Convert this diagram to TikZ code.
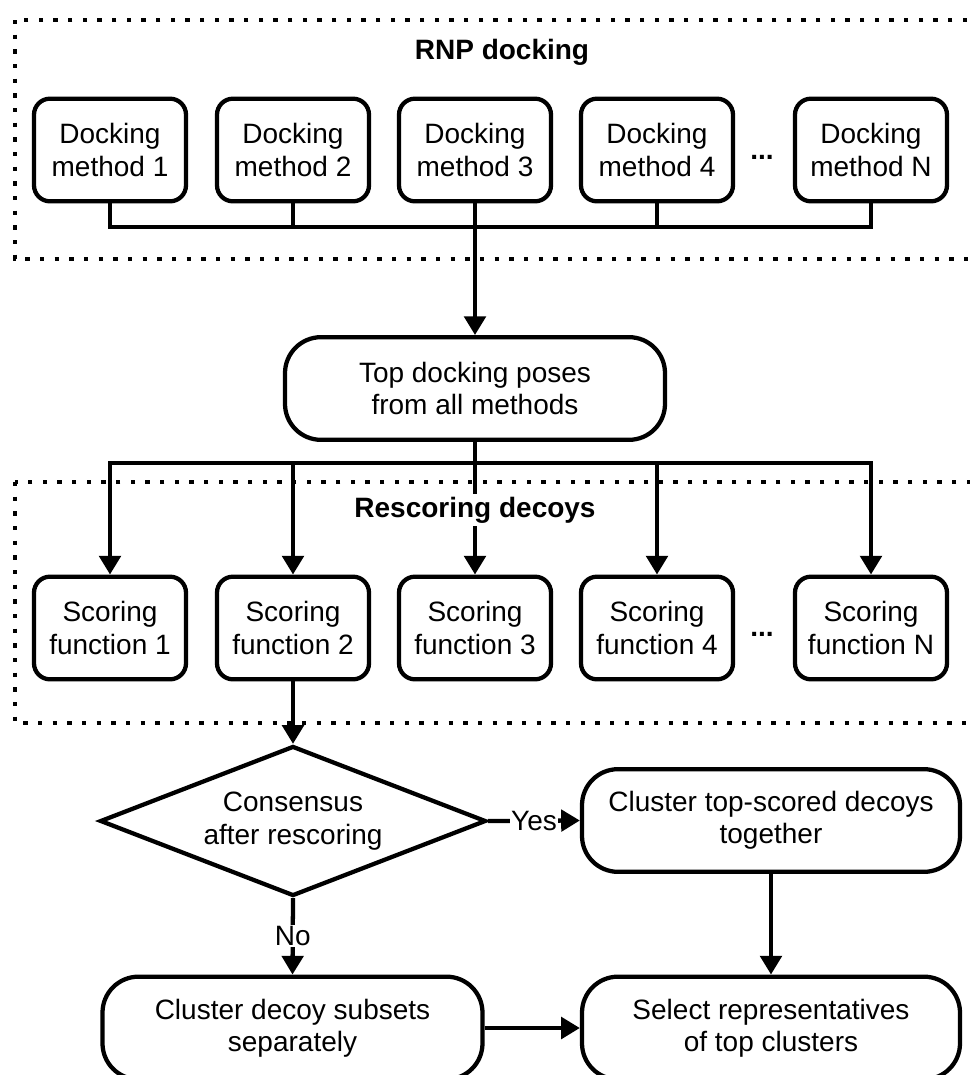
\documentclass[tikz,border=0pt]{standalone}
\usepackage{fontspec}
\setmainfont{Liberation Sans}
\usetikzlibrary{arrows.meta,shapes.geometric}
\begin{document}
\begin{tikzpicture}[x=0.75pt,y=-0.75pt,
  every node/.style={font=\fontsize{21pt}{24.3pt}\selectfont},
  line width=3.2pt,
  sbox/.style={draw, rounded corners=12pt, minimum width=114pt, minimum height=77pt, align=center, inner sep=0pt},
  bigbox/.style={draw, rounded corners=27pt, minimum width=285pt, minimum height=77pt, align=center, inner sep=0pt},
  arr/.style={-{Triangle[length=14pt,width=16pt]}},
  dotbox/.style={dash pattern=on 3.3pt off 7.7pt, line width=3.3pt},
  lbl/.style={fill=white, inner sep=1pt},
  grouptitle/.style={font=\fontsize{21pt}{24.3pt}\selectfont\bfseries, fill=white, inner sep=2pt, anchor=base},
  ell/.style={anchor=base, inner sep=0pt, font=\fontsize{21pt}{24.3pt}\selectfont\bfseries}
]
\clip (0,0) rectangle (970,1075);
% dotted group frames
\draw[dotbox] (15,20) rectangle (1000,259);
\draw[dotbox] (15,482) rectangle (1000,723);

% docking methods
\node[sbox] (d1) at (110,150) {Docking\\method 1};
\node[sbox] (d2) at (293,150) {Docking\\method 2};
\node[sbox] (d3) at (475,150) {Docking\\method 3};
\node[sbox] (d4) at (657,150) {Docking\\method 4};
\node[ell]  (e1) at (762,159) {...};
\node[sbox] (dN) at (871,150) {Docking\\method N};

% pooled poses
\node[bigbox] (top) at (475,388.5) {Top docking poses\\from all methods};

% scoring functions
\node[sbox] (s1) at (110,628) {Scoring\\function 1};
\node[sbox] (s2) at (293,628) {Scoring\\function 2};
\node[sbox] (s3) at (475,628) {Scoring\\function 3};
\node[sbox] (s4) at (657,628) {Scoring\\function 4};
\node[ell]  (e2) at (762,636) {...};
\node[sbox] (sN) at (871,628) {Scoring\\function N};

% decision and clustering
\node[draw, diamond, aspect=2.57, minimum width=289.5pt, minimum height=112.5pt, inner sep=0pt, align=center] (dia) at (293,821) {Consensus\\after rescoring};
\node[bigbox, minimum width=283.5pt] (ctop) at (771,820.5) {Cluster top-scored decoys\\together};
\node[bigbox] (cds) at (292.5,1028) {Cluster decoy subsets\\separately};
\node[bigbox, minimum width=283.5pt] (sel) at (771,1028) {Select representatives\\of top clusters};

% connectors: docking to pool
\coordinate (b1) at (475,227);
\draw (d1.south) |- (b1);
\draw (dN.south) |- (b1);
\draw (d2.south) -- (d2.south |- b1);
\draw (d4.south) -- (d4.south |- b1);
\draw[arr] (d3.south) -- (top.north);

% connectors: pool to scoring
\coordinate (b2) at (475,463);
\draw (top.south) -- (b2);
\draw[arr] (b2) -| (s1.north);
\draw[arr] (b2) -| (s2.north);
\draw[arr] (b2) -- (s3.north);
\draw[arr] (b2) -| (s4.north);
\draw[arr] (b2) -| (sN.north);

% connectors: lower flow
\draw[arr] (s2.south) -- (dia.north);
\draw[arr] (dia.east) -- node[lbl] (yes) {Yes} (ctop.west);
\draw[arr] (dia.south) -- node[lbl] (no) {No} (cds.north);
\draw[arr] (ctop.south) -- (sel.north);
\draw[arr] (cds.east) -- (sel.west);

% group titles
\node[grouptitle] (t1) at (502,59) {RNP docking};
\node[grouptitle] (t2) at (475,517) {Rescoring decoys};
\end{tikzpicture}
\end{document}
